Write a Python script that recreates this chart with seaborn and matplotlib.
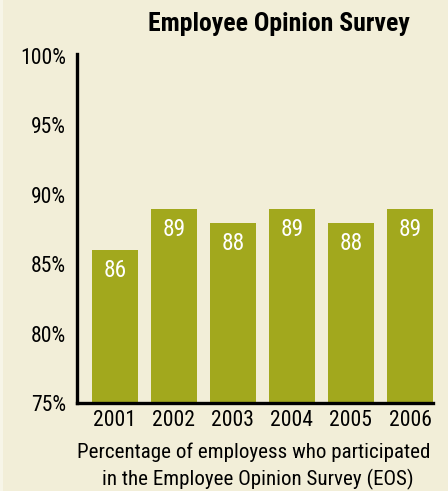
import matplotlib
matplotlib.use("Agg")
import matplotlib.pyplot as plt
from matplotlib import font_manager
from matplotlib.patches import Rectangle
import seaborn as sns
import pandas as pd

# Data
years = ["2001", "2002", "2003", "2004", "2005", "2006"]
participation = [86, 89, 88, 89, 88, 89]
yticks = [75, 80, 85, 90, 95, 100]

BG = "#f2eed8"
BAR = "#a2a81d"

# pick a narrow font if one is installed
family, stretch = "DejaVu Sans", "normal"
fonts = font_manager.fontManager.ttflist
names = {f.name for f in fonts}
for cand in ["Liberation Sans Narrow", "Roboto Condensed", "Open Sans Condensed"]:
    if cand in names:
        family = cand
        break
else:
    for f in fonts:
        if f.stretch in ("condensed", "semi-condensed", 75, 87.5) and \
                f.name in ("Noto Sans", "Open Sans", "Roboto", "DejaVu Sans"):
            family, stretch = f.name, f.stretch
            break

sns.set_style("white")
plt.rcParams["font.family"] = [family, "DejaVu Sans"]
plt.rcParams["font.stretch"] = stretch
plt.rcParams["text.color"] = "black"
plt.rcParams["xtick.color"] = "black"
plt.rcParams["ytick.color"] = "black"

df = pd.DataFrame({"year": years, "pct": participation})

fig = plt.figure(figsize=(4.48, 4.91), dpi=100, facecolor=BG)
# thin lighter strip on the left edge
fig.patches.append(Rectangle((0, 0), 3 / 448, 1, transform=fig.transFigure,
                             facecolor="#f7f5e8", edgecolor="none"))
ax = fig.add_axes([77 / 448, 1 - 403 / 491, (433 - 77) / 448, (403 - 54) / 491])
ax.set_facecolor(BG)

sns.barplot(data=df, x="year", y="pct", color=BAR, width=0.78,
            saturation=1, edgecolor="none", linewidth=0, ax=ax)

ax.set_ylim(75, 100.15)
ax.set_xlim(-0.64, 5.39)
ax.set_yticks(yticks)
ax.set_xlabel("")
ax.set_ylabel("")

for s in ["top", "right"]:
    ax.spines[s].set_visible(False)
for s in ["left", "bottom"]:
    ax.spines[s].set_linewidth(2.4)
    ax.spines[s].set_color("black")

title = fig.text(279 / 448, 1 - 24 / 491, "Employee Opinion Survey", ha="center",
                 va="center", fontsize=17, fontweight="semibold")
cap1 = fig.text(254 / 448, 1 - 452 / 491, "Percentage of employess who participated",
                ha="center", va="center", fontsize=14)
cap2 = fig.text(258 / 448, 1 - 479 / 491, "in the Employee Opinion Survey (EOS)",
                ha="center", va="center", fontsize=14)

# scale font sizes so text widths match the reference
renderer = fig.canvas.get_renderer()


def fit(t, width_px):
    w = t.get_window_extent(renderer).width
    t.set_fontsize(t.get_fontsize() * width_px / w)
    return t.get_fontsize()


fit(title, 262)
size = fit(cap1, 356)
cap2.set_fontsize(size)
probe = fig.text(0, 0, "100%", fontsize=14)
tick_size = fit(probe, 46)
probe.remove()

ax.set_yticklabels([f"{t}%" for t in yticks], fontsize=tick_size)
ax.tick_params(axis="x", labelsize=tick_size, length=0, pad=5)
ax.tick_params(axis="y", length=0, pad=8)

# value labels inside the bars
for i, v in enumerate(participation):
    ax.text(i, v - 0.65, str(v), ha="center", va="top", color="white",
            fontsize=tick_size * 1.08)

fig.savefig("out.png", dpi=100, facecolor=BG)
